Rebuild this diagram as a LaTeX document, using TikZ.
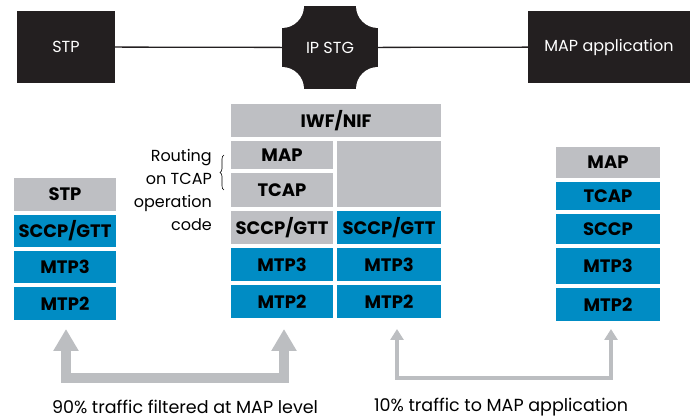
\documentclass[tikz,border=0pt]{standalone}
\usepackage{fontspec}
\setmainfont{Poppins}
\usetikzlibrary{arrows.meta, positioning, decorations.pathreplacing}
\definecolor{boxblack}{HTML}{231F20}
\definecolor{laygray}{HTML}{BEBFC3}
\definecolor{layblue}{HTML}{008CC4}
\definecolor{flowgray}{HTML}{BCBEC1}

\begin{document}
\begin{tikzpicture}[
        x=1pt, y=1pt,
        node distance=0pt,
        element/.style={rectangle, fill=boxblack, text=white, inner sep=0pt, minimum height=72pt, font=\fontsize{16}{19}\selectfont},
        layer/.style={rectangle, draw=white, line width=2pt, inner sep=0pt, text=black, font=\fontsize{18}{21}\selectfont\bfseries},
        grey/.style={layer, fill=laygray},
        blue/.style={layer, fill=layblue},
        narrow/.style={minimum width=104pt},
        wide/.style={minimum width=106pt},
        link/.style={draw=boxblack, line width=1.3pt},
        bigflow/.style={draw=flowgray, line width=10pt, {Triangle[width=24pt, length=22pt]}-{Triangle[width=24pt, length=22pt]}},
        thinflow/.style={draw=flowgray, line width=4pt, {Triangle[width=13pt, length=11pt]}-{Triangle[width=13pt, length=11pt]}},
        note/.style={inner sep=0pt, font=\fontsize{16}{23}\selectfont},
        caption/.style={inner sep=0pt, font=\fontsize{17.5}{21}\selectfont},
        curly/.style={decorate, decoration={brace, amplitude=4pt}, line width=0.6pt}
    ]
    \useasboundingbox (0,0) rectangle (693,420);

    \node (stp) [element, minimum width=98pt] at (66,373) {STP};
    \node (ipstg) [element, minimum width=96pt, minimum height=83pt,
        path picture={
            \fill[white] (path picture bounding box.north west) circle[radius=22pt];
            \fill[white] (path picture bounding box.north east) circle[radius=22pt];
            \fill[white] (path picture bounding box.south west) circle[radius=22pt];
            \fill[white] (path picture bounding box.south east) circle[radius=22pt];
        }] at (330,372.5) {IP STG};
    \node (mapapp) [element, minimum width=162pt] at (609,373) {MAP application};
    \draw[link] (stp) -- (ipstg);
    \draw[link] (ipstg) -- (mapapp);

    \node (lstp) [grey, narrow, minimum height=35pt, anchor=north] at (65,244) {STP};
    \node (lsccp) [blue, narrow, minimum height=34pt, below=of lstp] {SCCP/GTT};
    \node (lmtp3) [blue, narrow, minimum height=34.5pt, below=of lsccp] {MTP3};
    \node (lmtp2) [blue, narrow, minimum height=34.5pt, below=of lmtp3] {MTP2};

    \node (iwf) [grey, minimum width=212pt, minimum height=35pt, anchor=north] at (336,318) {IWF/NIF};
    \node (mmapL) [grey, narrow, minimum height=30pt, below right=of iwf.south west] {MAP};
    \node (mtcapL) [grey, narrow, minimum height=36pt, below=of mmapL] {TCAP};
    \node (mblank) [grey, wide, minimum height=68pt, below left=of iwf.south east] {};
    \node (msccpL) [grey, narrow, minimum height=35pt, below=of mtcapL] {SCCP/GTT};
    \node (msccpR) [blue, wide, minimum height=35pt, below=of mblank] {SCCP/GTT};
    \node (mmtp3L) [blue, narrow, minimum height=35pt, below=of msccpL] {MTP3};
    \node (mmtp3R) [blue, wide, minimum height=35pt, below=of msccpR] {MTP3};
    \node (mmtp2L) [blue, narrow, minimum height=35pt, below=of mmtp3L] {MTP2};
    \node (mmtp2R) [blue, wide, minimum height=35pt, below=of mmtp3R] {MTP2};

    \node (rmap) [grey, wide, minimum height=33pt, anchor=north] at (608,275) {MAP};
    \node (rtcap) [blue, wide, minimum height=30pt, below=of rmap] {TCAP};
    \node (rsccp) [blue, wide, minimum height=32pt, below=of rtcap] {SCCP};
    \node (rmtp3) [blue, wide, minimum height=38pt, below=of rsccp] {MTP3};
    \node (rmtp2) [blue, wide, minimum height=35pt, below=of rmtp3] {MTP2};

    \node (routing) [note, align=right, anchor=east] at (212,230) {Routing\\on TCAP\\operation\\code};
    \draw[curly] ([xshift=-5pt]mtcapL.west) -- ([xshift=-5pt]mmapL.west);

    \draw[bigflow] ([xshift=1pt, yshift=-7pt]lmtp2.south) -- ++(0,-49pt) -| ([xshift=2pt, yshift=-9pt]mmtp2L.south);
    \draw[thinflow] ([xshift=8pt, yshift=-9pt]mmtp2R.south) -- ++(0,-49pt) -| ([xshift=3pt, yshift=-6pt]rmtp2.south);

    \node (filtered) [caption] at (185,13) {90\% traffic filtered at MAP level};
    \node (passed) [caption] at (501,13) {10\% traffic to MAP application};
\end{tikzpicture}
\end{document}
